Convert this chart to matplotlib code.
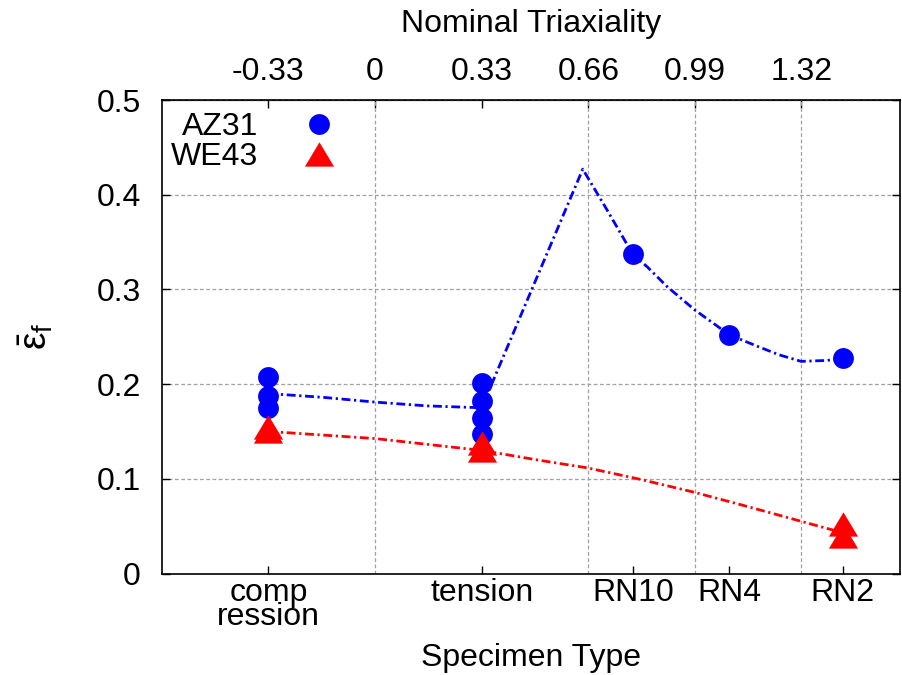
#!/usr/bin/env python
# -*- coding: utf-8 -*-

"""
Fracture strain vs specimen type / nominal triaxiality for AZ31 and WE43.
"""

import matplotlib
matplotlib.use('Agg')
import matplotlib.pyplot as plt

plt.rcParams['font.family'] = ['Liberation Sans', 'DejaVu Sans']
plt.rcParams['mathtext.fontset'] = 'custom'
plt.rcParams['mathtext.rm'] = 'Liberation Sans'
plt.rcParams['mathtext.it'] = 'Liberation Sans'

FS = 23

# bottom axis: specimen types (placed on the triaxiality scale)
specimen_pos = [-0.33, 0.33, 0.798, 1.097, 1.448]
specimen_labels = ['comp\nression', 'tension', 'RN10', 'RN4', 'RN2']

# top axis: nominal triaxiality
triax_ticks = [-0.33, 0, 0.33, 0.66, 0.99, 1.32]
triax_labels = ['-0.33', '0', '0.33', '0.66', '0.99', '1.32']

y_ticks = [0, 0.1, 0.2, 0.3, 0.4, 0.5]
y_labels = ['0', '0.1', '0.2', '0.3', '0.4', '0.5']

# measured points
az31_x = [-0.33, -0.33, -0.33, 0.33, 0.33, 0.33, 0.33, 0.798, 1.097, 1.448]
az31_y = [0.208, 0.187, 0.175, 0.201, 0.182, 0.164, 0.147, 0.337, 0.252, 0.2275]
we43_x = [-0.33, -0.33, 0.33, 0.33, 1.448, 1.448]
we43_y = [0.155, 0.151, 0.138, 0.130, 0.052, 0.040]

# trend lines
az31_fit_x = [-0.33, -0.16, 0.0, 0.16, 0.33, 0.643, 0.718, 0.798, 0.842, 0.904,
              0.989, 1.097, 1.183, 1.25, 1.319, 1.40, 1.448]
az31_fit_y = [0.190, 0.186, 0.181, 0.177, 0.175, 0.427, 0.384, 0.337, 0.324, 0.303,
              0.2785, 0.252, 0.240, 0.231, 0.224, 0.225, 0.2275]
we43_fit_x = [-0.33, 0.0, 0.33, 0.51, 0.658, 0.82, 0.988, 1.15, 1.318, 1.448]
we43_fit_y = [0.150, 0.1425, 0.130, 0.1195, 0.1115, 0.0995, 0.0858, 0.071, 0.0552, 0.043]

W, H = 902, 675
fig = plt.figure(figsize=(W / 100.0, H / 100.0), dpi=100)
ax = fig.add_axes([161.5 / W, 1 - 573.5 / H, (900 - 161.5) / W, (573.5 - 100) / H])

dashdot = (0, (3.2, 1.3, 0.8, 1.3))
ax.plot(az31_fit_x, az31_fit_y, color='#0000ff', lw=2, ls=dashdot, zorder=3)
ax.plot(we43_fit_x, we43_fit_y, color='#ff0000', lw=2, ls=dashdot, zorder=3)

tri = [(-1.2, -1), (1.2, -1), (0, 1)]
ax.plot(az31_x, az31_y, 'o', color='#0000ff', ms=15, mew=0, label='AZ31', zorder=4)
ax.plot(we43_x, we43_y, marker=tri, ls='none', color='#ff0000', ms=21, mew=0,
        label='WE43', zorder=5)

ax.set_xlim(-0.661, 1.625)
ax.set_ylim(0, 0.5)

ax.set_xticks(specimen_pos)
ax.set_xticklabels(specimen_labels, fontsize=FS, linespacing=0.75)
ax.set_xticks(triax_ticks, minor=True)
ax.set_yticks(y_ticks)
ax.set_yticklabels(y_labels, fontsize=FS)

ax.tick_params(which='major', direction='in', length=6, width=1,
               top=False, right=True)
ax.tick_params(axis='x', which='major', pad=3)
ax.tick_params(axis='y', which='major', pad=15)
ax.tick_params(which='minor', length=0)

grid_style = dict(color='#a0a0a0', lw=0.9, ls=(0, (3, 2)))
ax.grid(axis='x', which='minor', **grid_style)
ax.grid(axis='y', which='major', **grid_style)

for s in ax.spines.values():
    s.set_linewidth(1.2)

ax.set_xlabel('Specimen Type', fontsize=FS, labelpad=8)
ax.set_ylabel(r'$\bar{\varepsilon}_{\mathrm{f}}$', fontsize=28, labelpad=30)

secax = ax.secondary_xaxis('top')
secax.set_xticks(triax_ticks)
secax.set_xticklabels(triax_labels, fontsize=FS)
secax.tick_params(direction='in', length=6, width=1, pad=9)
secax.set_xlabel('Nominal Triaxiality', fontsize=FS, labelpad=18)

ax.legend(loc='upper left', bbox_to_anchor=(0.013, 0.974), frameon=False,
          markerfirst=False, numpoints=1, fontsize=FS, borderpad=0,
          borderaxespad=0, handlelength=2, handletextpad=0.9, labelspacing=0)

fig.savefig('out.png', dpi=100)
